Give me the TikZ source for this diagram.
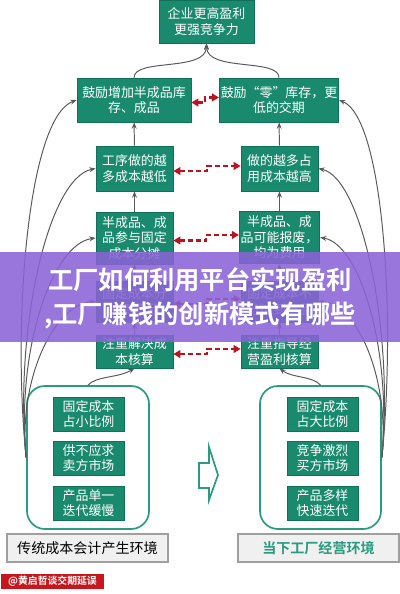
\documentclass[tikz,border=0pt]{standalone}
\usepackage{fontspec}
\setmainfont{Noto Sans CJK SC}
\newfontfamily\cjkbold{Noto Sans CJK SC Bold}
\usetikzlibrary{arrows.meta,calc}
\definecolor{boxgreen}{HTML}{1A8A6E}
\definecolor{boxedge}{HTML}{11705A}
\definecolor{envgreen}{HTML}{2A9A80}
\definecolor{linkgray}{HTML}{5A5A5A}
\definecolor{pairred}{HTML}{B81420}
\definecolor{bandpurple}{HTML}{8A63D6}
\definecolor{markred}{HTML}{C8161D}
\tikzset{
  card/.style={draw=boxedge, fill=boxgreen, text=white, line width=0.5pt, inner sep=1pt, align=center, font=\fontsize{9.2}{11}\selectfont},
  wide/.style={card, minimum width=2.85cm, minimum height=1.1cm},
  mid/.style={card, minimum width=1.925cm},
  small/.style={card, minimum width=1.775cm, minimum height=0.85cm},
  env/.style={draw=envgreen, line width=1.2pt, rounded corners=0.45cm, minimum height=3.575cm},
  tag/.style={draw=gray!75, fill=gray!12, line width=0.8pt, minimum width=4.025cm, minimum height=0.7cm, font=\fontsize{10}{12}\selectfont},
  link/.style={draw=linkgray, line width=0.7pt, -{Stealth[length=4.5pt,width=3.5pt]}},
  pair/.style={draw=pairred, line width=1.5pt, dash pattern=on 3.5pt off 2.2pt, {Triangle[length=5pt,width=5.5pt]}-{Triangle[length=5pt,width=5.5pt]}}
}
\begin{document}
\begin{tikzpicture}[x=0.025cm, y=-0.025cm]
  \useasboundingbox (0,0) rectangle (400,594);
  % Goal
  \node[card, minimum width=2.375cm, minimum height=1.075cm] (top) at (206.5,21.5) {企业更高盈利\\更强竞争力};
  % Left column
  \node[wide] (l1) at (134,100) {鼓励增加半成品库\\存、成品};
  \node[mid, minimum height=1.125cm] (l2) at (134.5,168.5) {工序做的越\\多成本越低};
  \node[mid, minimum height=1.3cm] (l3) at (134.5,238) {半成品、成\\品参与固定\\成本分摊};
  \node[mid, minimum height=1.025cm] (l4) at (134.5,301.5) {固定成本分\\摊到产品};
  \node[mid, minimum height=0.825cm] (l5) at (134.5,351.5) {注重解决成\\本核算};
  % Right column
  \node[wide] (r1) at (279,100) {鼓励“零”库存，更\\低的交期};
  \node[mid, minimum height=1.125cm] (r2) at (279.5,168.5) {做的越多占\\用成本越高};
  \node[mid, minimum height=1.3cm] (r3) at (279.5,237.5) {半成品、成\\品可能报废，\\均为费用};
  \node[mid, minimum height=1.025cm] (r4) at (279.5,301.5) {固定成本不\\分摊到产品};
  \node[mid, minimum height=0.825cm] (r5) at (279.5,351.5) {注重指导经\\营盈利核算};
  % Environments
  \node[env, minimum width=3.05cm] (lenv) at (88,457.5) {};
  \node[env, minimum width=3.025cm] (renv) at (320.5,457.5) {};
  \node[small] (la) at (88.5,414) {固定成本\\占小比例};
  \node[small] (lb) at (88.5,458) {供不应求\\卖方市场};
  \node[small] (lc) at (88.5,503) {产品单一\\迭代缓慢};
  \node[small] (ra) at (322.5,414) {固定成本\\占大比例};
  \node[small] (rb) at (322.5,458) {竞争激烈\\买方市场};
  \node[small] (rc) at (322.5,503) {产品多样\\快速迭代};
  \node[tag] (ltag) at (87.5,548) {传统成本会计产生环境};
  \node[tag, text=envgreen, font=\fontsize{10}{12}\cjkbold] (rtag) at (318.5,548) {当下工厂经营环境};
  % Hollow arrow
  \draw[envgreen, line width=1.2pt, fill=white, line join=miter] (199,463) -- (209,463) -- (209,447) -- (218,475) -- (209,500) -- (209,488) -- (199,488) -- cycle;
  % Upward links
  \foreach \a/\b in {l2/l1, l3/l2, l4/l3, l5/l4, r2/r1, r3/r2, r4/r3, r5/r4}
    \draw[link] (\a) -- (\b);
  \draw[link] (l1.north) .. controls (134,58) and (206,72) .. (top.south);
  \draw[link] (r1.north) .. controls (279,58) and (207,72) .. (top.south);
  \draw[link] (lenv.north) .. controls (96,376) and (118,378) .. (l5.south);
  \draw[link] (renv.north) .. controls (313,376) and (292,378) .. (r5.south);
  % Side links
  \draw[link] (lenv.west) .. controls (12,320) and (28,118) .. (l1.west);
  \draw[link] (lenv.west) .. controls (14,330) and (48,178) .. (l2.west);
  \draw[link] (lenv.west) .. controls (16,350) and (52,244) .. (l3.west);
  \draw[link] (lenv.west) .. controls (18,380) and (54,304) .. (l4.west);
  \draw[link] (renv.east) .. controls (396,320) and (384,118) .. (r1.east);
  \draw[link] (renv.east) .. controls (394,330) and (362,178) .. (r2.east);
  \draw[link] (renv.east) .. controls (392,350) and (360,244) .. (r3.east);
  \draw[link] (renv.east) .. controls (390,380) and (358,304) .. (r4.east);
  % Opposing pairs
  \foreach \i in {1,...,5}
    \draw[pair] ([yshift=-1.8pt]l\i.east) -| ($(l\i.east)!.5!(r\i.west)$) |- ([yshift=1.8pt]r\i.west);
  % Title band
  \fill[bandpurple, opacity=0.88] (0,252) rectangle (400,342);
  \node[text=white, font=\fontsize{18}{22}\cjkbold, inner sep=0pt] (band1) at (200,280) {工厂如何利用平台实现盈利};
  \node[text=white, font=\fontsize{18}{22}\cjkbold, inner sep=0pt] (band2) at (200,315) {,工厂赚钱的创新模式有哪些};
  % Mark
  \node[fill=markred, text=white, font=\fontsize{7}{8}\cjkbold, minimum width=2.575cm, minimum height=0.375cm, inner sep=0pt] (mark) at (52.5,581.5) {@黄启哲谈交期延误};
\end{tikzpicture}
\end{document}
